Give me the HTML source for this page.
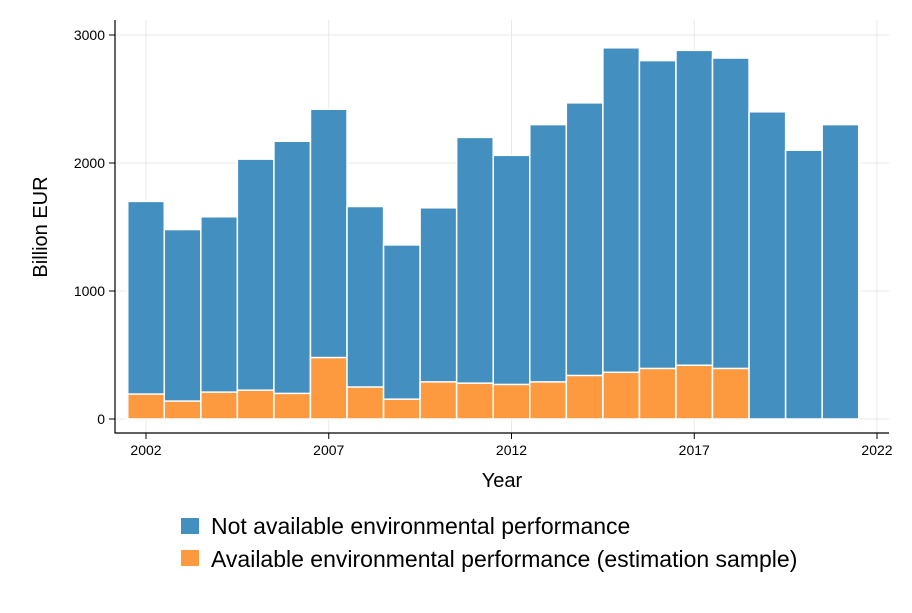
<!DOCTYPE html>
<html><head><meta charset="utf-8"><style>
body{margin:0;background:#fff;}
svg text{font-family:"Liberation Sans",Arial,sans-serif;fill:#000;}
</style></head><body>
<svg id="chart" width="912" height="608" viewBox="0 0 912 608">
<g id="grid"></g>
<g id="bars"></g>
<g id="axes"></g>
<text x="47" y="227" font-size="20" text-anchor="middle" transform="rotate(-90 47 227)">Billion EUR</text>
<text x="502" y="487" font-size="20" text-anchor="middle">Year</text>
<g>
<g>
<rect x="181" y="518" width="18" height="16" fill="#428fc0"/>
<text x="211" y="534" font-size="23">Not available environmental performance</text></g>
<g>
<rect x="181" y="550" width="18" height="16" fill="#fd9a40"/>
<text x="211" y="567" font-size="23">Available environmental performance (estimation sample)</text></g>
</g>
</svg>
<script>
const years=[2002,2003,2004,2005,2006,2007,2008,2009,2010,2011,2012,2013,2014,2015,2016,2017,2018,2019,2020,2021];
const totalValues=[1700,1480,1580,2030,2170,2420,1660,1360,1650,2200,2060,2300,2470,2900,2800,2880,2820,2400,2100,2300];
const availableValues=[195,140,210,225,200,480,250,155,290,280,270,290,340,365,395,420,395,0,0,0];
const yTicks=[0,1000,2000,3000];
const xTicks=[2002,2007,2012,2017,2022];
const NS="http://www.w3.org/2000/svg";
const x0=115,x1=889,yTop=20,yBot=433;
const xs=v=>146+(v-2002)*36.55;
const ys=v=>419-v*0.128;
const bw=36.55;
function mk(tag,attrs,parent){const e=document.createElementNS(NS,tag);for(const k in attrs)e.setAttribute(k,attrs[k]);parent.appendChild(e);return e;}
const grid=document.getElementById('grid'),bars=document.getElementById('bars'),axes=document.getElementById('axes');
yTicks.forEach(t=>{
 const g=mk('line',{x1:x0,x2:x1,y1:ys(t),y2:ys(t),stroke:'#e8e8e8','stroke-width':1},grid);
 
 
 const tk=mk('line',{x1:x0-6,x2:x0,y1:ys(t),y2:ys(t),stroke:'#000'},axes);
 
 
 const tx=mk('text',{x:x0-10,y:ys(t)+5,'font-size':14,'text-anchor':'end'},axes);
 tx.textContent=t;
 
 
});
xTicks.forEach(t=>{
 const g=mk('line',{x1:xs(t),x2:xs(t),y1:yTop,y2:yBot,stroke:'#e8e8e8','stroke-width':1},grid);
 
 
 const tk=mk('line',{x1:xs(t),x2:xs(t),y1:yBot,y2:yBot+6,stroke:'#000'},axes);
 
 
 const tx=mk('text',{x:xs(t),y:yBot+22,'font-size':14,'text-anchor':'middle'},axes);
 tx.textContent=t;
 
 
});
years.forEach((yr,i)=>{
 const l=xs(yr)-bw/2;
 const b=mk('rect',{x:l,y:ys(totalValues[i]),width:bw,height:ys(0)-ys(totalValues[i]),fill:'#428fc0',stroke:'#fff','stroke-width':1.5},bars);
 
 
 if(availableValues[i]>0){
  const a=mk('rect',{x:l,y:ys(availableValues[i]),width:bw,height:ys(0)-ys(availableValues[i]),fill:'#fd9a40',stroke:'#fff','stroke-width':1.5},bars);
  
  
 }
});
const ax=mk('path',{d:`M${x0} ${yTop} V${yBot} H${x1}`,fill:'none',stroke:'#000','stroke-width':1.2},axes);


</script>
</body></html>
